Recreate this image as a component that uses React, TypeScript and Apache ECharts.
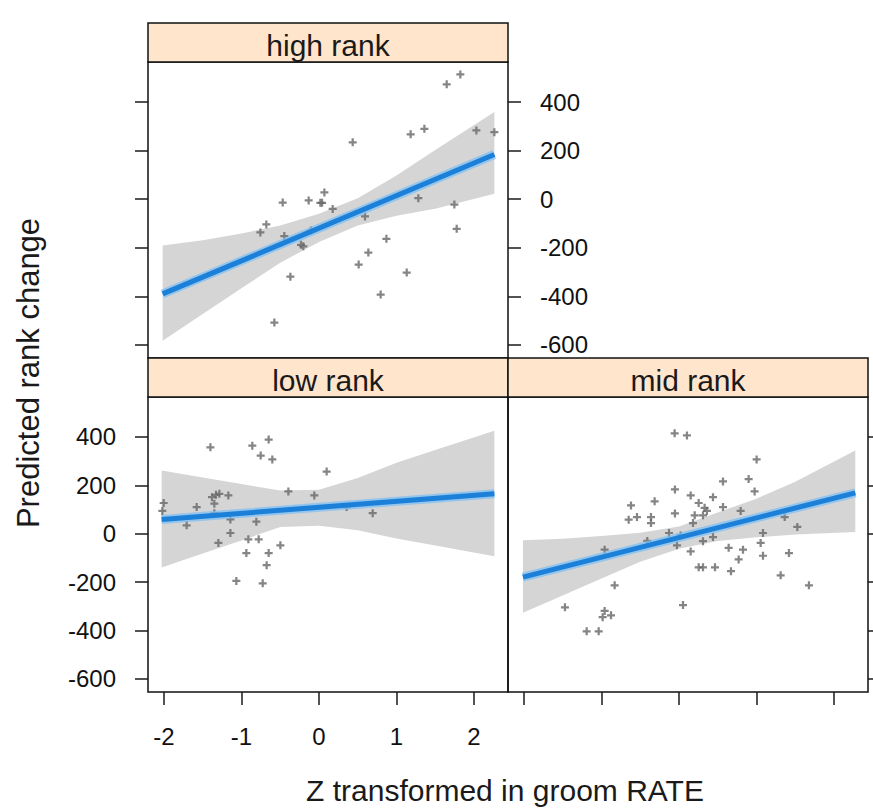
import { useEffect, useRef } from "react";
import * as echarts from "echarts";

// Shared scales of the three panels
const X_MIN = -2.206;
const X_MAX = 2.439;
const Y_MIN = -654;
const Y_MAX = 565;
const xTicks = [-2, -1, 0, 1, 2];
const yTicks = [-600, -400, -200, 0, 200, 400];

const panelNames = ["high rank", "low rank", "mid rank"];
const xTitle = "Z transformed in groom RATE";
const yTitle = "Predicted rank change";

// high rank: partial residuals, fitted line, confidence band
const highPoints: [number, number][] = [
  [1.824, 514], [1.648, 473], [2.031, 283], [2.263, 276], [1.183, 267], [1.36, 290],
  [0.435, 234], [0.07, 28], [-0.468, -14], [-0.133, -5], [0.018, -15], [0.04, -15],
  [0.177, -40], [-0.679, -104], [-0.756, -137], [-0.447, -152], [-0.232, -188],
  [-0.202, -194], [-0.103, -129], [0.594, -71], [1.282, 4], [1.747, -22],
  [1.777, -122], [0.87, -163], [0.637, -220], [0.512, -269], [1.132, -302],
  [-0.369, -319], [0.796, -393], [-0.576, -508],
];
const highFitX = [-2.017, 2.263];
const highFitY = [-390, 184];
const highBandX = [-2.017, -1.5, -1, -0.5, 0, 0.5, 1, 1.5, 2.263];
const highBandUpper = [-191, -169, -141, -108, -60, 4, 98, 203, 359];
const highBandLower = [-583, -473, -367, -262, -176, -108, -68, -39, 22];

// low rank
const lowPoints: [number, number][] = [
  [-1.401, 357], [-0.86, 364], [-0.649, 389], [-0.752, 323], [-0.602, 307],
  [0.099, 257], [-0.395, 175], [-0.06, 158], [-2.004, 127], [-2.021, 94],
  [-1.578, 110], [-1.38, 151], [-1.329, 161], [-1.285, 165], [-1.169, 158],
  [-1.35, 124], [-1.35, 85], [-1.707, 35], [-1.143, 59], [-0.808, 50],
  [-1.143, 3], [-1.298, -38], [-0.911, -23], [-0.778, -23], [-0.498, -48],
  [-0.937, -80], [-0.649, -80], [-0.675, -130], [-1.066, -195], [-0.726, -205],
  [0.693, 85], [0.357, 110],
];
const lowFitX = [-2.03, 2.263];
const lowFitY = [59, 165];
const lowBandX = [-2.03, -1.5, -1, -0.5, 0, 0.5, 1, 1.5, 2.263];
const lowBandUpper = [261, 232, 205, 179, 182, 230, 293, 346, 426];
const lowBandLower = [-140, -82, -28, 28, 33, 14, -20, -49, -93];

// mid rank
const midPoints: [number, number][] = [
  [-0.056, 415], [0.103, 406], [1.002, 307], [0.899, 226], [0.568, 216], [0.976, 175],
  [-0.052, 183], [0.151, 158], [0.439, 151], [-0.619, 117], [-0.314, 134], [0.254, 127],
  [0.568, 110], [0.331, 107], [0.361, 94], [0.796, 94], [-0.052, 84], [0.203, 76],
  [0.31, 76], [-0.649, 58], [-0.542, 69], [-0.361, 69], [-0.361, 44], [0.181, 44],
  [1.364, 69], [1.527, 28], [1.084, 3], [-0.129, 3], [0.022, -7], [0.439, -14],
  [-0.409, -30], [0.31, -31], [1.054, -38], [-0.026, -48], [0.641, -58], [0.826, -66],
  [-0.959, -66], [0.151, -73], [1.419, -80], [1.084, -91], [0.77, -106], [0.254, -139],
  [0.31, -139], [0.465, -139], [0.671, -155], [1.312, -172], [-0.83, -213], [1.677, -213],
  [-1.471, -304], [0.052, -295], [-0.959, -319], [-0.985, -345], [-0.877, -337],
  [-1.191, -403], [-1.036, -403],
];
const midFitX = [-2.013, 2.275];
const midFitY = [-179, 169];
const midBandX = [-2.013, -1.5, -1, -0.5, 0, 0.5, 1, 1.5, 2.275];
const midBandUpper = [-27, -21, -9, 4, 30, 88, 145, 215, 344];
const midBandLower = [-327, -255, -185, -116, -62, -30, -15, -3, 7];

const FONT = '"Liberation Sans", Arial, sans-serif';
const PLUS = "path://M3.6,0H6.4V3.6H10V6.4H6.4V10H3.6V6.4H0V3.6H3.6Z";

// panel rectangles (plot area) and strip height
const panels = [
  { left: 148, top: 62, width: 360, height: 296 },
  { left: 148, top: 397, width: 360, height: 295 },
  { left: 508, top: 397, width: 360, height: 295 },
];
const STRIP_H = 39;

const tickStyle = { color: "#1a1a1a", width: 1.5 };

function xAxis(gridIndex: number, position: string, labels: boolean) {
  return {
    type: "value",
    gridIndex,
    position,
    min: X_MIN,
    max: X_MAX,
    axisLine: { show: false, onZero: false },
    splitLine: { show: false },
    axisTick: { show: true, length: 13, customValues: xTicks, lineStyle: tickStyle },
    axisLabel: {
      show: labels,
      customValues: xTicks,
      fontSize: 24,
      fontFamily: FONT,
      color: "#111",
      margin: 32,
    },
  };
}

function yAxis(gridIndex: number, position: string, labels: boolean) {
  return {
    type: "value",
    gridIndex,
    position,
    min: Y_MIN,
    max: Y_MAX,
    axisLine: { show: false, onZero: false },
    splitLine: { show: false },
    axisTick: { show: true, length: 13, customValues: yTicks, lineStyle: tickStyle },
    axisLabel: {
      show: labels,
      customValues: yTicks,
      fontSize: 24,
      fontFamily: FONT,
      color: "#111",
      margin: 32,
    },
  };
}

function panelSeries(
  xIdx: number,
  yIdx: number,
  points: [number, number][],
  fitX: number[],
  fitY: number[],
  bandX: number[],
  bandUp: number[],
  bandLo: number[]
) {
  const fit = fitX.map((x, i) => [x, fitY[i]]);
  return [
    {
      type: "custom",
      xAxisIndex: xIdx,
      yAxisIndex: yIdx,
      silent: true,
      z: 1,
      data: [[0, 0]],
      renderItem: (_p: any, api: any) => {
        const pts: number[][] = [];
        bandX.forEach((x, i) => pts.push(api.coord([x, bandUp[i]])));
        for (let i = bandX.length - 1; i >= 0; i--) pts.push(api.coord([bandX[i], bandLo[i]]));
        return { type: "polygon", shape: { points: pts }, style: { fill: "#d5d5d5" } };
      },
    },
    {
      type: "scatter",
      xAxisIndex: xIdx,
      yAxisIndex: yIdx,
      z: 2,
      symbol: PLUS,
      symbolSize: 8,
      itemStyle: { color: "#666666" },
      data: points,
    },
    {
      type: "line",
      xAxisIndex: xIdx,
      yAxisIndex: yIdx,
      z: 3,
      showSymbol: false,
      lineStyle: { color: "rgba(120,190,245,0.7)", width: 9 },
      data: fit,
    },
    {
      type: "line",
      xAxisIndex: xIdx,
      yAxisIndex: yIdx,
      z: 4,
      showSymbol: false,
      lineStyle: { color: "#1c80d9", width: 5 },
      data: fit,
    },
  ];
}

export default function App() {
  const ref = useRef<HTMLDivElement>(null);

  useEffect(() => {
    if (!ref.current) return;
    const chart = echarts.init(ref.current, undefined, { renderer: "svg" });

    const strips: any[] = [];
    panels.forEach((p, i) => {
      const top = p.top - STRIP_H;
      strips.push({
        type: "rect",
        z: 10,
        shape: { x: p.left, y: top, width: p.width, height: STRIP_H },
        style: { fill: "#ffe5cc", stroke: "#111", lineWidth: 1.5 },
      });
      strips.push({
        type: "text",
        z: 11,
        x: p.left + p.width / 2,
        y: top + 22,
        style: {
          text: panelNames[i],
          font: `30px ${FONT}`,
          fill: "#1a1a1a",
          textAlign: "center",
          textVerticalAlign: "middle",
        },
      });
    });

    chart.setOption({
      animation: false,
      backgroundColor: "#ffffff",
      textStyle: { fontFamily: FONT },
      grid: panels.map((p) => ({
        left: p.left,
        top: p.top,
        width: p.width,
        height: p.height,
        show: true,
        borderColor: "#111",
        borderWidth: 1.5,
        backgroundColor: "transparent",
        containLabel: false,
      })),
      xAxis: [xAxis(0, "top", false), xAxis(1, "bottom", true), xAxis(2, "bottom", false)],
      yAxis: [
        yAxis(0, "left", false),
        yAxis(0, "right", true),
        yAxis(1, "left", true),
        yAxis(2, "right", false),
      ],
      series: [
        ...panelSeries(0, 0, highPoints, highFitX, highFitY, highBandX, highBandUpper, highBandLower),
        ...panelSeries(1, 2, lowPoints, lowFitX, lowFitY, lowBandX, lowBandUpper, lowBandLower),
        ...panelSeries(2, 3, midPoints, midFitX, midFitY, midBandX, midBandUpper, midBandLower),
      ],
      graphic: [
        ...strips,
        {
          type: "text",
          x: 505,
          y: 790,
          style: {
            text: xTitle,
            font: `30px ${FONT}`,
            fill: "#1a1a1a",
            textAlign: "center",
            textVerticalAlign: "middle",
          },
        },
        {
          type: "text",
          x: 28,
          y: 373,
          rotation: Math.PI / 2,
          style: {
            text: yTitle,
            font: `31px ${FONT}`,
            fill: "#1a1a1a",
            textAlign: "center",
            textVerticalAlign: "middle",
          },
        },
      ],
    });

    return () => chart.dispose();
  }, []);

  return (
    <div
      ref={ref}
      style={{ position: "absolute", left: 0, top: 0, width: 873, height: 810, background: "#fff" }}
    />
  );
}
